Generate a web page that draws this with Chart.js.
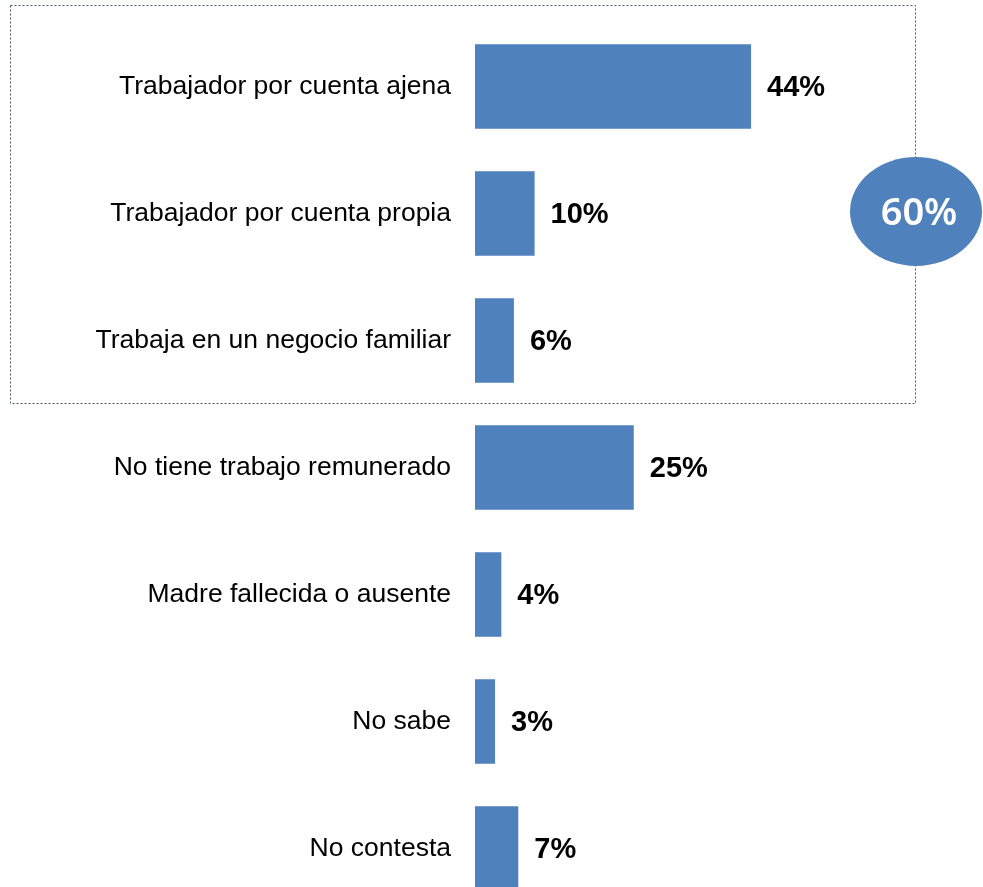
<!DOCTYPE html>
<html>
<head>
<meta charset="utf-8">
<script src="https://cdn.jsdelivr.net/npm/chart.js@4.4.1/dist/chart.umd.min.js"></script>
<style>
    html, body { margin: 0; padding: 0; background: #ffffff; overflow: hidden; }
    #wrap { position: relative; width: 983px; height: 920px; }
</style>
</head>
<body>
<div id="wrap"><canvas id="chart"></canvas></div>
<script>
'use strict';

// Chart data
const categories = [
    "Trabajador por cuenta ajena",
    "Trabajador por cuenta propia",
    "Trabaja en un negocio familiar",
    "No tiene trabajo remunerado",
    "Madre fallecida o ausente",
    "No sabe",
    "No contesta"
];
// Bar lengths as measured on the picture (the printed labels are rounded)
const values = [44, 9.5, 6.2, 25.3, 4.2, 3.2, 6.9];
const valueLabels = ["44%", "10%", "6%", "25%", "4%", "3%", "7%"];
const groupTotal = "60%";

const barColor = "#4f81bd";

// Value labels next to each bar
const valueLabelPlugin = {
    id: 'valueLabels',
    afterDatasetsDraw(chart) {
        const ctx = chart.ctx;
        const meta = chart.getDatasetMeta(0);
        ctx.save();
        ctx.fillStyle = "#000000";
        ctx.font = "bold 29px 'Liberation Sans', Arial, sans-serif";
        ctx.textAlign = "left";
        ctx.textBaseline = "middle";
        meta.data.forEach((bar, i) => {
            ctx.fillText(valueLabels[i], bar.x + 16, bar.y + 1);
        });
        ctx.restore();
    }
};

// Dotted box round the working group and the total bubble
const groupBox = {
    id: 'groupBox',
    afterDraw(chart) {
        const ctx = chart.ctx;
        ctx.save();
        ctx.strokeStyle = "#4a5870";
        ctx.lineWidth = 1;
        ctx.setLineDash([2, 2]);
        ctx.strokeRect(10.5, 5.5, 905, 398);
        ctx.setLineDash([]);

        ctx.fillStyle = barColor;
        ctx.beginPath();
        ctx.ellipse(916, 211.5, 66, 54.5, 0, 0, Math.PI * 2);
        ctx.fill();

        ctx.fillStyle = "#ffffff";
        ctx.font = "600 38px 'Noto Sans', sans-serif";
        ctx.textAlign = "center";
        ctx.textBaseline = "middle";
        ctx.fillText(groupTotal, 919, 214);
        ctx.restore();
    }
};

const ctx = document.getElementById('chart').getContext('2d');
const chart = new Chart(ctx, {
    type: 'bar',
    data: {
        labels: categories,
        datasets: [{
            data: values,
            backgroundColor: barColor,
            borderWidth: 0,
            barPercentage: 0.665,
            categoryPercentage: 1.0
        }]
    },
    options: {
        indexAxis: 'y',
        responsive: true,
        maintainAspectRatio: false,
        animation: false,
        layout: {
            padding: { top: 23, bottom: 8, left: 0, right: 6 }
        },
        plugins: {
            legend: { display: false },
            tooltip: { enabled: false }
        },
        scales: {
            x: {
                display: false,
                min: 0,
                max: 80
            },
            y: {
                afterFit(scale) {
                    scale.width = 475;
                    // labels must not push the plot area down
                    scale.paddingTop = 0;
                    scale.paddingBottom = 0;
                },
                grid: { display: false, drawTicks: false },
                border: { display: false },
                ticks: {
                    padding: 24,
                    color: "#000000",
                    font: { family: "'Liberation Sans', Arial, sans-serif", size: 26.5 }
                }
            }
        }
    },
    plugins: [valueLabelPlugin, groupBox]
});
</script>
</body>
</html>
